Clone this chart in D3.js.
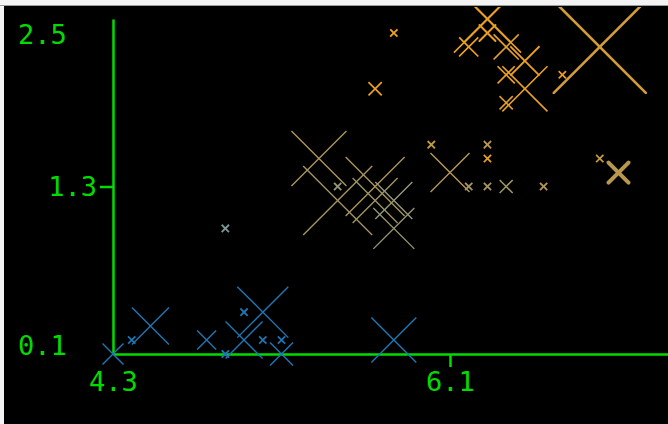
<!DOCTYPE html>
<html><head><meta charset="utf-8">
<script src="https://cdn.jsdelivr.net/npm/d3@7"></script>
<style>
html,body{margin:0;padding:0;background:#f3f3f3;overflow:hidden;}
svg{display:block;}
</style></head><body>
<svg id="c" width="668" height="424"></svg>
<script>
// ---- data (iris measurements shown in the chart) ----
const species = [
  "setosa","setosa","setosa","setosa","setosa","setosa","setosa","setosa","setosa","setosa","setosa","setosa",
  "versicolor","versicolor","versicolor","versicolor","versicolor","versicolor","versicolor","versicolor","versicolor",
  "versicolor","versicolor","versicolor","versicolor","versicolor","versicolor","versicolor","versicolor",
  "virginica","virginica","virginica","virginica","virginica","virginica","virginica","virginica","virginica",
  "virginica","virginica","virginica","virginica","virginica"
];
const sepalLength = [
  4.3,4.4,4.5,4.8,4.9,5.0,5.0,5.1,5.1,5.2,5.2,5.8,
  4.9,5.4,5.5,5.7,5.8,5.7,5.8,5.5,6.0,
  6.1,6.2,6.3,6.3,6.4,6.6,6.9,7.0,
  6.3,5.7,5.8,6.3,6.3,6.3,6.2,6.4,6.5,
  6.4,6.5,6.4,6.7,6.9
];
const petalWidth = [
  0.1,0.2,0.3,0.2,0.1,0.2,0.4,0.4,0.2,0.2,0.1,0.2,
  1.0,1.5,1.2,1.3,1.0,1.2,1.2,1.3,1.6,
  1.4,1.3,1.6,1.3,1.3,1.3,1.5,1.4,
  1.5,2.0,2.4,2.5,2.5,2.4,2.3,2.3,2.2,
  2.1,2.0,1.9,2.1,2.3
];
const petalLength = [
  1.1,1.4,1.3,1.6,1.5,1.4,1.6,1.9,1.5,1.4,1.5,1.2,
  3.3,4.5,4.4,4.5,4.1,4.2,3.9,4.0,4.9,
  4.6,4.3,4.7,4.4,4.3,4.6,4.9,4.7,
  5.4,5.4,5.4,6.0,6.0,5.6,5.4,5.3,5.8,
  5.6,5.4,5.3,5.7,5.1
];
// relative mark magnitude and stroke weight
const magnitude = [
  2.0,0.6,3.6,1.8,0.6,3.6,0.6,5.0,0.6,0.6,2.2,4.4,
  0.6,5.4,6.8,5.8,4.0,4.4,3.6,0.6,0.6,
  3.8,0.6,0.6,0.6,1.2,0.6,0.6,2.0,
  0.6,1.2,0.6,6.6,4.6,1.6,1.8,2.4,2.8,
  1.6,4.4,1.2,0.6,9.2
];
const weight = [
  1.4,1.8,1.4,1.4,1.8,1.4,1.8,1.4,1.8,1.8,1.4,1.4,
  1.8,1.4,1.4,1.4,1.4,1.4,1.4,1.8,1.8,
  1.5,1.8,1.8,1.8,1.5,1.8,1.8,4.0,
  1.8,1.8,1.8,1.6,2.0,2.0,1.7,1.6,1.8,
  1.7,1.6,1.7,1.8,2.6
];
const xTicks = [4.3, 6.1];
const yTicks = [0.1, 1.3, 2.5];
const xTickLabels = ["4.3", "6.1"];
const yTickLabels = ["0.1", "1.3", "2.5"];

// ---- drawing ----
const W = 668, H = 424;
const svg = d3.select("#c");
const green = "#00dc00";

svg.append("rect").attr("x", 0).attr("y", 0).attr("width", W).attr("height", H).attr("fill", "#f3f3f3");
svg.append("rect").attr("x", 4).attr("y", 6).attr("width", W - 4).attr("height", H - 6).attr("fill", "#000");
svg.append("line").attr("x1", 0).attr("x2", W).attr("y1", 5.5).attr("y2", 5.5)
  .attr("stroke", "#9c9c9c").attr("stroke-width", 1);

const defs = svg.append("defs");
defs.append("clipPath").attr("id", "plotclip").append("rect")
  .attr("x", 4).attr("y", 7).attr("width", W).attr("height", H);

const x = d3.scaleLinear().domain([4.3, 7.9]).range([113, 787]);
const y = d3.scaleLinear().domain([0.1, 2.5]).range([354, 19]);
const half = d3.scaleLinear().domain([0, 10]).range([0, 50]);
const strokeW = d3.scaleLinear().domain([0, 4]).range([0, 4]);
const color = d3.scaleLinear()
  .domain([1.9, 3.6, 4.1, 4.5, 5.0, 5.4])
  .range(["#1f77b4", "#8fa090", "#989470", "#ab955a", "#cc9c3c", "#eba024"])
  .clamp(true);

const fontFam = "'DejaVu Sans Mono', 'Liberation Mono', monospace";

// x axis
const xAxis = svg.append("g").attr("transform", `translate(0,${y.range()[0]})`)
  .call(d3.axisBottom(x).tickValues(xTicks).tickFormat((d, i) => xTickLabels[i])
    .tickSizeInner(13).tickSizeOuter(0).tickPadding(5));
// y axis
const yAxis = svg.append("g").attr("transform", `translate(${x.range()[0]},0)`)
  .call(d3.axisLeft(y).tickValues(yTicks).tickFormat((d, i) => yTickLabels[i])
    .tickSizeInner(13).tickSizeOuter(0).tickPadding(3));

[xAxis, yAxis].forEach(g => {
  g.attr("font-family", fontFam).attr("font-size", 27);
  g.select(".domain").attr("stroke", green).attr("stroke-width", 2.5);
  g.selectAll(".tick line").attr("stroke", green).attr("stroke-width", 2.5);
  g.selectAll(".tick text").attr("fill", green);
});
// endpoint ticks carry only their labels
xAxis.selectAll(".tick").filter(d => d === xTicks[0]).select("line").remove();
yAxis.selectAll(".tick").filter(d => d === yTicks[0] || d === yTicks[yTicks.length - 1]).each(function(d) {
  const t = d3.select(this);
  t.select("line").remove();
  t.select("text").attr("text-anchor", "start").attr("x", 18 - x.range()[0])
    .attr("dy", d === yTicks[0] ? "0em" : "0.92em");
});

// marks
const idx = d3.range(sepalLength.length);
const marks = svg.append("g").attr("clip-path", "url(#plotclip)");
const g = marks.selectAll("g.pt").data(idx).join("g").attr("class", "pt")
  .attr("transform", i => `translate(${x(sepalLength[i])},${y(petalWidth[i])})`)
  .attr("stroke", i => color(petalLength[i]))
  .attr("stroke-width", i => strokeW(weight[i]))
  .attr("stroke-linecap", i => weight[i] >= 2 ? "round" : "square")
  .attr("fill", "none");
g.append("line")
  .attr("x1", i => -half(magnitude[i])).attr("y1", i => -half(magnitude[i]))
  .attr("x2", i => half(magnitude[i])).attr("y2", i => half(magnitude[i]));
g.append("line")
  .attr("x1", i => -half(magnitude[i])).attr("y1", i => half(magnitude[i]))
  .attr("x2", i => half(magnitude[i])).attr("y2", i => -half(magnitude[i]));
</script>
</body></html>
